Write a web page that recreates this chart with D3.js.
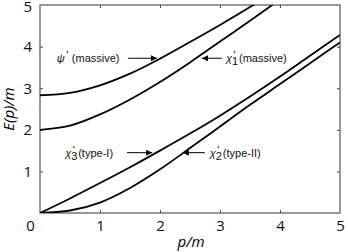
<!DOCTYPE html>
<html>
<head>
<meta charset="utf-8">
<script src="https://cdn.jsdelivr.net/npm/d3@7"></script>
<style>
  body { margin: 0; background: #fff; }
  svg { display: block; }
  .tick text { font-family: "Open Sans", sans-serif; font-size: 15px; fill: #111; }
  .lbl { font-family: "Liberation Sans", Arial, sans-serif; font-size: 11px; fill: #111; }
</style>
</head>
<body>
<div class="container"></div>
<script>
// momentum p/m
const pPsi = [0, 0.5, 1, 1.5, 2, 2.5, 3, 3.5, 3.6],
    ePsi = [2.83, 2.89, 3.07, 3.35, 3.71, 4.11, 4.52, 4.95, 5.04];
const pChi1 = [0, 0.5, 1, 1.5, 2, 2.5, 3, 3.5, 3.9],
    eChi1 = [2.0, 2.1, 2.37, 2.73, 3.15, 3.62, 4.12, 4.62, 5.03];
const pChi3 = [0, 0.5, 1, 1.5, 2, 2.5, 3, 3.5, 4, 4.5, 5],
    eChi3 = [0, 0.35, 0.72, 1.1, 1.5, 1.91, 2.34, 2.8, 3.28, 3.78, 4.28];
const pChi2 = [0, 0.5, 1, 1.5, 2, 2.5, 3, 3.5, 4, 4.5, 5],
    eChi2 = [0, 0.06, 0.25, 0.6, 1.05, 1.56, 2.08, 2.6, 3.1, 3.6, 4.1];
const xTicks = [0, 1, 2, 3, 4, 5],
    yTicks = [1, 2, 3, 4, 5];

const width = 348, height = 252,
    margin = {top: 5, right: 8, bottom: 39, left: 40};

const xScale = d3.scaleLinear().domain([0, 5]).range([margin.left, width - margin.right]);
const yScale = d3.scaleLinear().domain([0, 5]).range([height - margin.bottom, margin.top]);

const svg = d3.select('.container').append('svg')
    .attr('width', width)
    .attr('height', height);

svg.append('defs').append('clipPath').attr('id', 'clip')
    .append('rect')
    .attr('x', xScale(0)).attr('y', yScale(5))
    .attr('width', xScale(5) - xScale(0)).attr('height', yScale(0) - yScale(5));

// axes, ticks point inward
const inner = [1, 2, 3, 4];
const xAxis = svg.append('g')
    .attr('transform', `translate(0, ${yScale(0)})`)
    .call(d3.axisBottom(xScale).tickValues(xTicks).tickSize(-3).tickPadding(7).tickFormat(d3.format('d')));
xAxis.selectAll('.tick').filter(d => d === 0 || d === 5).select('line').remove();
xAxis.selectAll('.tick').filter(d => d === 0).select('text').attr('dx', -10);

const yAxis = svg.append('g')
    .attr('transform', `translate(${xScale(0)}, 0)`)
    .call(d3.axisLeft(yScale).tickValues(yTicks).tickSize(-3).tickPadding(8).tickFormat(d3.format('d')));
yAxis.selectAll('.tick').filter(d => d === 5).select('line').remove();
yAxis.selectAll('.tick').filter(d => d === 5).select('text').attr('dy', '0.45em');

svg.append('g')
    .attr('transform', `translate(0, ${yScale(5)})`)
    .call(d3.axisTop(xScale).tickValues(inner).tickSize(-3).tickFormat(''));
svg.append('g')
    .attr('transform', `translate(${xScale(5)}, 0)`)
    .call(d3.axisRight(yScale).tickValues(inner).tickSize(-3).tickFormat(''));

svg.selectAll('.domain').remove();
svg.selectAll('.tick line').attr('stroke', '#444');

svg.append('rect')
    .attr('x', xScale(0)).attr('y', yScale(5))
    .attr('width', xScale(5) - xScale(0)).attr('height', yScale(0) - yScale(5))
    .attr('fill', 'none').attr('stroke', '#555').attr('stroke-width', 1.2);

// curves
const line = d3.line()
    .x(d => xScale(d[0]))
    .y(d => yScale(d[1]))
    .curve(d3.curveMonotoneX);

[[pPsi, ePsi], [pChi1, eChi1], [pChi3, eChi3], [pChi2, eChi2]].forEach(([ps, es]) => {
    svg.append('path')
        .datum(ps.map((p, i) => [p, es[i]]))
        .attr('clip-path', 'url(#clip)')
        .attr('fill', 'none')
        .attr('stroke', '#000')
        .attr('stroke-width', 1.8)
        .attr('d', line);
});

// arrows
const defs = svg.select('defs');
defs.append('marker')
    .attr('id', 'head')
    .attr('viewBox', '0 0 10 10')
    .attr('refX', 10).attr('refY', 5)
    .attr('markerWidth', 9).attr('markerHeight', 6)
    .attr('markerUnits', 'userSpaceOnUse')
    .attr('orient', 'auto')
    .append('path').attr('d', 'M0,0 L10,5 L0,10 Z').attr('fill', '#000');

const arrow = (p0, e0, p1, e1) => svg.append('line')
    .attr('x1', xScale(p0)).attr('y1', yScale(e0))
    .attr('x2', xScale(p1)).attr('y2', yScale(e1))
    .attr('stroke', '#000').attr('stroke-width', 1)
    .attr('marker-end', 'url(#head)');

arrow(1.47, 3.72, 1.95, 3.72);
arrow(3.03, 3.72, 2.7, 3.72);
arrow(1.45, 1.45, 1.87, 1.45);
arrow(2.75, 1.45, 2.38, 1.45);

// label built from separate pieces so the prime sits above the subscript
const label = (p, e, sym, sub, rest) => {
    const x = xScale(p), y = yScale(e) + 4;
    const g = svg.append('g');
    const s = g.append('text').attr('class', 'lbl')
        .attr('x', x).attr('y', y)
        .attr('font-style', 'italic').attr('font-size', 12)
        .text(sym);
    const w = s.node().getComputedTextLength();
    if (sub) {
        g.append('text').attr('class', 'lbl')
            .attr('x', x + w).attr('y', y + 3).attr('font-size', 8).text(sub);
    }
    g.append('text').attr('class', 'lbl')
        .attr('x', x + w + 1.5).attr('y', y - 3).attr('font-size', 10).text('\'');
    g.append('text').attr('class', 'lbl')
        .attr('x', x + w + 7).attr('y', y).text(rest);
};

label(0.28, 3.72, 'ψ', null, '(massive)');
label(3.1, 3.72, 'χ', '1', '(massive)');
label(0.42, 1.45, 'χ', '3', ' (type-I)');
label(2.83, 1.45, 'χ', '2', '(type-II)');

// axis titles
svg.append('text')
    .attr('x', (xScale(0) + xScale(5)) / 2 + 1).attr('y', 247)
    .attr('text-anchor', 'middle')
    .style('font-family', '"Open Sans", sans-serif').style('font-size', '15px').style('font-style', 'italic')
    .text('p/m');

svg.append('text')
    .attr('transform', `translate(14, ${(yScale(0) + yScale(5)) / 2}) rotate(-90)`)
    .attr('text-anchor', 'middle')
    .style('font-family', '"Open Sans", sans-serif').style('font-size', '15px').style('font-style', 'italic')
    .text('E(p)/m');
</script>
</body>
</html>
